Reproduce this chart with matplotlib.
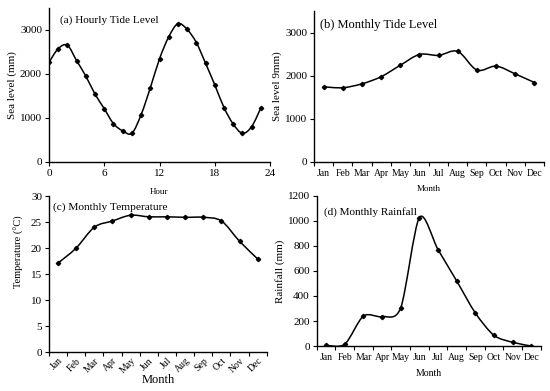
import numpy as np
import matplotlib
matplotlib.use("Agg")
import matplotlib.pyplot as plt
from matplotlib.path import Path
from matplotlib.patches import PathPatch

plt.rcParams["font.family"] = ["Liberation Serif", "DejaVu Serif"]

hours = list(range(24))
hourly_tide = [2260, 2570, 2650, 2300, 1950, 1540, 1210, 870, 705, 650, 1070, 1680,
               2340, 2840, 3140, 3010, 2710, 2240, 1750, 1235, 860, 650, 800, 1225]

months = ["Jan", "Feb", "Mar", "Apr", "May", "Jun", "Jul", "Aug", "Sep", "Oct", "Nov", "Dec"]
monthly_tide = [1740, 1720, 1810, 1975, 2240, 2490, 2470, 2560, 2130, 2220, 2040, 1840]
monthly_temp = [17.1, 20.0, 24.0, 25.2, 26.3, 26.0, 26.0, 25.9, 25.9, 25.2, 21.3, 17.9]
monthly_rain = [5, 15, 240, 235, 306, 1027, 770, 520, 264, 85, 30, 0]


def smooth_line(ax, x, y, k=1 / 6.0):
    # Excel-style smoothed line: cubic Bezier through every point
    x = np.asarray(x, float)
    y = np.asarray(y, float)
    pts = np.column_stack([x, y])
    n = len(pts)
    verts = [pts[0]]
    codes = [Path.MOVETO]
    for i in range(n - 1):
        p0 = pts[i - 1] if i > 0 else pts[i]
        p1, p2 = pts[i], pts[i + 1]
        p3 = pts[i + 2] if i + 2 < n else pts[i + 1]
        c1 = p1 + (p2 - p0) * k
        c2 = p2 - (p3 - p1) * k
        verts += [c1, c2, p2]
        codes += [Path.CURVE4] * 3
    ax.add_patch(PathPatch(Path(verts, codes), facecolor="none", edgecolor="black", lw=1.1))
    ax.plot(x, y, linestyle="none", marker="D", markersize=2.2, color="black")


def style(ax):
    for s in ("top", "right"):
        ax.spines[s].set_visible(False)
    for s in ("left", "bottom"):
        ax.spines[s].set_linewidth(1.0)
    ax.tick_params(direction="out", length=3, width=0.8, labelsize=8, pad=2)


def month_axis(ax, rotate=False):
    pos = np.arange(1, 13)
    ax.set_xlim(0.5, 12.5)
    ax.set_xticks(np.arange(0.5, 13, 1.0))
    ax.set_xticklabels([])
    ax.set_xticks(pos, minor=True)
    if rotate:
        ax.set_xticklabels(months, minor=True, rotation=45, fontsize=7,
                           ha="right", rotation_mode="anchor")
    else:
        ax.set_xticklabels(months, minor=True, fontsize=7)
    ax.tick_params(axis="x", which="minor", length=0, pad=5)


fig = plt.figure(figsize=(5.5, 3.91), dpi=100)
x = np.arange(1, 13)

# (a) hourly tide
ax = fig.add_axes([0.089, 0.586, 0.402, 0.394])
style(ax)
smooth_line(ax, hours, hourly_tide)
ax.set_xlim(0, 24)
ax.set_ylim(0, 3500)
ax.set_xticks([0, 6, 12, 18, 24])
ax.set_yticks([0, 1000, 2000, 3000])
ax.set_ylabel("Sea level (mm)", fontsize=8, labelpad=2)
ax.set_xlabel("Hour", fontsize=6.5, labelpad=7)
ax.text(0.05, 0.92, "(a) Hourly Tide Level", transform=ax.transAxes, fontsize=8.1, va="center")

# (b) monthly tide
ax = fig.add_axes([0.571, 0.586, 0.418, 0.386])
style(ax)
smooth_line(ax, x, monthly_tide)
month_axis(ax)
ax.set_ylim(0, 3500)
ax.set_yticks([0, 1000, 2000, 3000])
ax.set_ylabel("Sea level 9mm)", fontsize=8, labelpad=2)
ax.set_xlabel("Month", fontsize=6.5, labelpad=5)
ax.text(0.026, 0.91, "(b) Monthly Tide Level", transform=ax.transAxes, fontsize=9, va="center")

# (c) monthly temperature
ax = fig.add_axes([0.089, 0.0997, 0.396, 0.399])
style(ax)
smooth_line(ax, x, monthly_temp)
month_axis(ax, rotate=True)
ax.tick_params(axis="x", which="minor", pad=3)
ax.set_ylim(0, 30)
ax.set_yticks([0, 5, 10, 15, 20, 25, 30])
ax.set_ylabel("Temperature (°C)", fontsize=7.5)
ax.yaxis.set_label_coords(-0.115, 0.64)
ax.set_xlabel("Month", fontsize=9, labelpad=-1)
ax.text(0.02, 0.93, "(c) Monthly Temperature", transform=ax.transAxes, fontsize=8.2, va="center")

# (d) monthly rainfall
ax = fig.add_axes([0.576, 0.115, 0.407, 0.384])
style(ax)
ax.set_ylim(0, 1200)
smooth_line(ax, x, monthly_rain, k=1 / 7.0)
month_axis(ax)
ax.set_yticks(range(0, 1201, 200))
ax.set_ylabel("Rainfall (mm)", fontsize=8, labelpad=2)
ax.set_xlabel("Month", fontsize=7, labelpad=5)
ax.text(0.03, 0.89, "(d) Monthly Rainfall", transform=ax.transAxes, fontsize=8, va="center")

fig.savefig("out.png", dpi=100)
